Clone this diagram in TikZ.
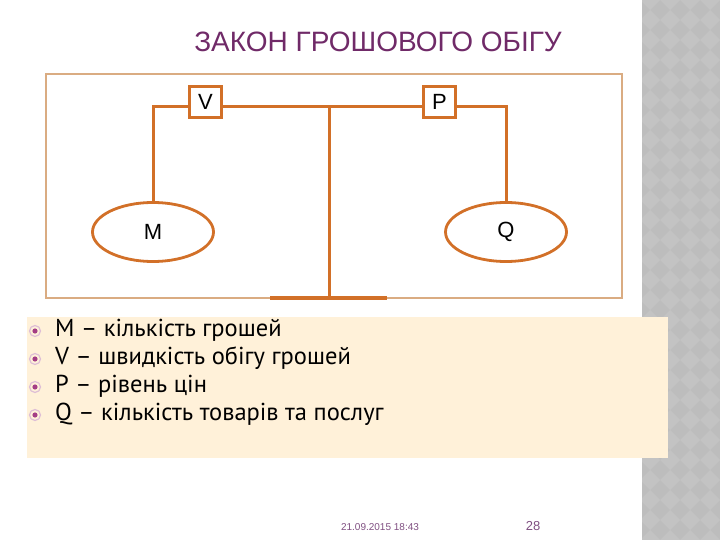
\documentclass[tikz,border=0pt]{standalone}
\usepackage{fontspec}
\setmainfont{Liberation Sans}
\newfontfamily\listfont{PT Sans}
\usetikzlibrary{shapes.geometric}

\definecolor{linecol}{RGB}{210,112,40}
\definecolor{framecol}{RGB}{218,172,130}
\definecolor{titlecol}{RGB}{112,42,104}
\definecolor{creamcol}{RGB}{255,241,217}
\definecolor{stripcol}{RGB}{189,189,189}
\definecolor{stripdia}{RGB}{195,195,195}
\definecolor{ringcol}{RGB}{222,190,214}
\definecolor{dotcol}{RGB}{164,62,134}
\definecolor{footcol}{RGB}{128,80,130}

\tikzset{
  wire/.style={draw=linecol, line width=3pt},
  letterbox/.style={draw=linecol, line width=2.8pt, fill=white, minimum width=32pt, minimum height=31pt, inner sep=0pt, font=\fontsize{22}{24}\selectfont},
  oval/.style={ellipse, draw=linecol, line width=2.8pt, fill=white, minimum width=121pt, minimum height=59pt, inner sep=0pt, font=\fontsize{22}{24}\selectfont},
  bulletdot/.style={circle, draw=ringcol, line width=1.2pt, minimum size=11pt, inner sep=0pt,
    path picture={\fill[dotcol] (path picture bounding box.center) circle (2.6pt);}},
  itemtext/.style={anchor=west, inner sep=0pt, font=\listfont\fontsize{24.5}{27}\selectfont}
}

\begin{document}
\begin{tikzpicture}[x=1pt, y=-1pt]
    \useasboundingbox (0,0) rectangle (720,540);
    \fill[white] (0,0) rectangle (720,540);

    % Side strip
    \fill[stripcol] (642,0) rectangle (720,540);
    \begin{scope}
      \clip (642,0) rectangle (720,540);
      \foreach \i in {0,...,4} {
        \foreach \j in {0,...,28} {
          \fill[stripdia] ({640+\i*20},{\j*20}) -- ++(10,-10) -- ++(10,10) -- ++(-10,10) -- cycle;
        }
      }
    \end{scope}

    % Title
    \node[text=titlecol, font=\fontsize{28}{30}\selectfont] (title) at (378,42) {ЗАКОН ГРОШОВОГО ОБІГУ};

    % Frame
    \draw[framecol, line width=1.3pt] (46,74) rectangle (622,298);

    % Scales
    \node[letterbox] (V) at (205.5,102) {V};
    \node[letterbox] (P) at (439.5,102) {P};
    \node[oval] (M) at (153,232) {M};
    \node[oval] (Q) at (506,232) {Q};
    \coordinate (top) at (329,107);
    \coordinate (foot) at (329,298);
    \coordinate (baseL) at (270,298);
    \coordinate (baseR) at (387,298);

    \draw[wire] (V.west |- top) -| (M.north);
    \draw[wire] (V.east |- top) -- (P.west |- top);
    \draw[wire] (P.east |- top) -| (Q.north);
    \draw[wire] (top) -- (foot);
    \draw[wire, line width=3.4pt] (baseL) -- (baseR);

    % List
    \fill[creamcol] (27,317) rectangle (668,458);
    \foreach \n/\y/\txt in {
        1/330/M – кількість грошей,
        2/358/V – швидкість обігу грошей,
        3/386/P – рівень цін,
        4/414/Q – кількість товарів та послуг
    } {
        \node[bulletdot] (b\n) at (35,\y+1) {};
        \node[itemtext] (t\n) at (55,\y) {\txt};
    }

    % Footer
    \node[text=footcol, font=\fontsize{10}{11}\selectfont] (date) at (380,527) {21.09.2015 18:43};
    \node[text=footcol, font=\fontsize{13}{14}\selectfont] (page) at (533,526) {28};
\end{tikzpicture}
\end{document}
